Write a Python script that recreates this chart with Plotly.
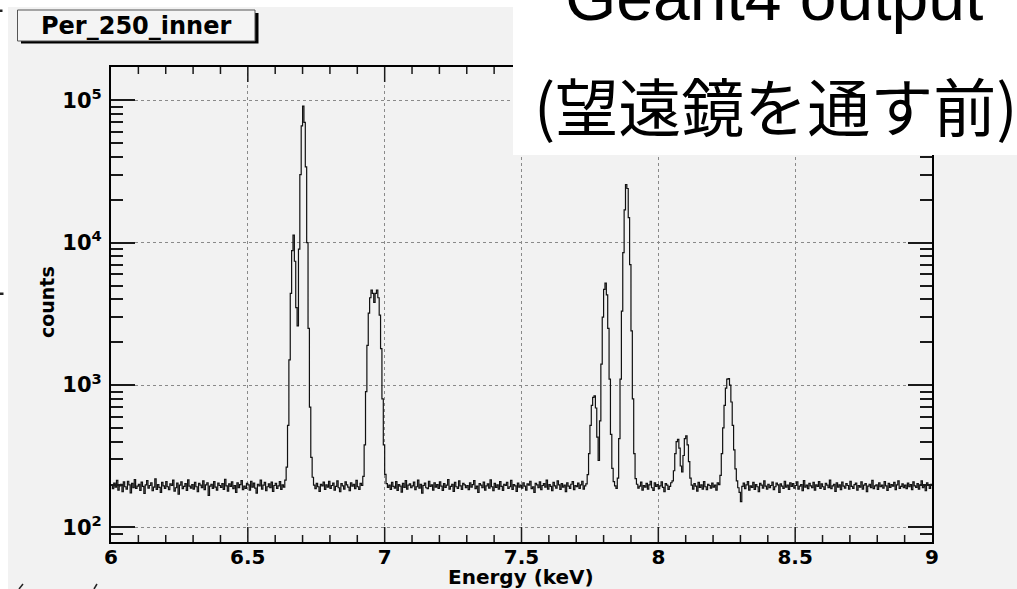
import plotly.graph_objects as go

# ---------------------------------------------------------------------------
# Spectrum: 600 bins of 5 eV from 6 to 9 keV (counts per bin)
# ---------------------------------------------------------------------------
E_MIN, E_MAX, N_BINS = 6.0, 9.0, 600

counts = [
    # 6.0 - 6.1
    198, 187, 205, 192, 214, 183, 196, 201, 178, 209, 193, 186, 211, 199, 175, 204, 190, 217, 188, 195,
    # 6.1 - 6.2
    201, 182, 208, 194, 173, 199, 213, 189, 197, 206, 181, 192, 219, 185, 200, 191, 176, 207, 196, 188,
    # 6.2 - 6.3
    210, 193, 184, 202, 197, 215, 180, 190, 205, 171, 198, 209, 187, 194, 203, 182, 216, 195, 189, 200,
    # 6.3 - 6.4
    186, 207, 193, 178, 204, 198, 190, 212, 184, 199, 206, 168, 195, 201, 188, 210, 192, 183, 205, 197,
    # 6.4 - 6.5
    191, 203, 185, 218, 196, 180, 202, 194, 209, 187, 197, 176, 206, 190, 200, 213, 184, 195, 188, 204,
    # 6.5 - 6.6
    199, 183, 211, 192, 205, 189, 174, 201, 196, 215, 186, 198, 207, 181, 193, 202, 190, 208, 179, 197,
    # 6.6 - 6.7
    204, 188, 196, 210, 185, 199, 192, 215, 265, 520, 1500, 4400, 8800, 11300, 7400, 3500, 2600, 9000, 30000, 66000,
    # 6.7 - 6.8
    91000, 70000, 34000, 10000, 2500, 700, 310, 225, 198, 187, 204, 193, 179, 201, 196, 208, 185, 199, 192, 211,
    # 6.8 - 6.9
    188, 197, 205, 183, 194, 212, 190, 178, 203, 196, 186, 209, 199, 192, 181, 206, 195, 201, 187, 214,
    # 6.9 - 7.0
    193, 185, 204, 197, 228, 380, 900, 1900, 3200, 4100, 4650, 4400, 3800, 4400, 4650, 4100, 3100, 1800, 800, 380,
    # 7.0 - 7.1
    236, 203, 191, 198, 185, 207, 194, 189, 210, 182, 200, 195, 177, 204, 191, 213, 186, 198, 202, 190,
    # 7.1 - 7.2
    196, 208, 184, 193, 215, 189, 201, 174, 197, 205, 190, 187, 211, 194, 199, 183, 206, 192, 200, 188,
    # 7.2 - 7.3
    209, 195, 182, 203, 191, 198, 217, 186, 194, 201, 179, 207, 193, 188, 212, 196, 185, 204, 199, 190,
    # 7.3 - 7.4
    197, 184, 206, 192, 200, 213, 187, 195, 176, 203, 198, 190, 208, 183, 196, 202, 189, 216, 193, 181,
    # 7.4 - 7.5
    204, 191, 199, 186, 210, 194, 182, 201, 197, 207, 188, 193, 214, 185, 200, 196, 179, 205, 192, 198,
    # 7.5 - 7.6
    189, 206, 195, 183, 202, 198, 211, 187, 193, 176, 204, 199, 190, 209, 184, 197, 203, 192, 215, 186,
    # 7.6 - 7.7
    200, 194, 181, 207, 196, 189, 212, 199, 185, 203, 192, 198, 178, 206, 195, 188, 201, 210, 184, 197,
    # 7.7 - 7.8
    193, 205, 188, 199, 211, 186, 196, 202, 235, 330, 520, 720, 820, 840, 690, 430, 295, 560, 1400, 3000,
    # 7.8 - 7.9
    4700, 5200, 4300, 2500, 1100, 450, 260, 210, 196, 188, 222, 420, 1100, 3300, 8500, 17000, 25600, 24000, 15000, 7000,
    # 7.9 - 8.0
    2400, 800, 330, 220, 201, 189, 195, 208, 183, 197, 192, 204, 186, 199, 211, 190, 182, 206, 194, 200,
    # 8.0 - 8.1
    187, 196, 209, 191, 178, 203, 198, 185, 194, 206, 212, 250, 330, 400, 415, 360, 270, 245, 320, 420,
    # 8.1 - 8.2
    440, 380, 290, 222, 198, 186, 203, 195, 180, 207, 191, 199, 186, 210, 193, 184, 201, 197, 189, 205,
    # 8.2 - 8.3
    192, 198, 183, 206, 200, 232, 330, 500, 720, 950, 1100, 1110, 1000, 760, 520, 350, 258, 212, 190, 176,
    # 8.3 - 8.4
    152, 194, 205, 187, 199, 210, 183, 196, 191, 207, 185, 200, 193, 178, 204, 198, 189, 212, 195, 186,
    # 8.4 - 8.5
    201, 190, 197, 208, 184, 193, 205, 199, 176, 202, 195, 188, 211, 192, 198, 185, 206, 194, 203, 189,
    # 8.5 - 8.6
    197, 209, 186, 195, 200, 181, 213, 192, 198, 187, 204, 196, 190, 207, 183, 199, 194, 210, 188, 202,
    # 8.6 - 8.7
    193, 185, 204, 198, 190, 215, 187, 196, 201, 179, 206, 192, 199, 184, 208, 195, 189, 203, 197, 186,
    # 8.7 - 8.8
    211, 194, 188, 200, 205, 183, 197, 192, 209, 186, 198, 203, 178, 195, 201, 190, 214, 187, 196, 199,
    # 8.8 - 8.9
    185, 206, 193, 198, 189, 210, 196, 182, 204, 191, 200, 195, 207, 184, 199, 212, 188, 194, 202, 190,
    # 8.9 - 9.0
    198, 187, 205, 193, 200, 184, 209, 196, 191, 203, 186, 199, 212, 190, 195, 181, 206, 197, 188, 201,
]
assert len(counts) == N_BINS

x_tickvals = [6, 6.5, 7, 7.5, 8, 8.5, 9]
x_ticktext = ["6", "6.5", "7", "7.5", "8", "8.5", "9"]
X_MINOR_STEP = 0.1
y_tickvals = [1e2, 1e3, 1e4, 1e5]
y_ticktext = ["10<sup>2</sup>", "10<sup>3</sup>", "10<sup>4</sup>", "10<sup>5</sup>"]
y_minorvals = [m * 10 ** p for p in (1, 2, 3, 4) for m in range(2, 10)]
Y_LOG_RANGE = [1.8976, 5.2335]

hist_title = "Per_250_inner"
x_title = "Energy (keV)"
y_title = "counts"
note_line1 = "Geant4 output"
note_line2 = "(望遠鏡を通す前)"

# ---------------------------------------------------------------------------
# Page geometry (pixels)
# ---------------------------------------------------------------------------
WIDTH, HEIGHT = 1017, 589
L, R, T, B = 111, 932, 67, 542
PW, PH = R - L, B - T
X_MAJOR_LEN, X_MINOR_LEN = 15, 7


def px_x(px):
    return (px - L) / PW


def px_y(py):
    return (B - py) / PH


BG = "#f2f2f2"
TICK = "#1a1a1a"
BOLD = dict(family="DejaVu Sans", weight="bold", color="black")

# step outline of the histogram
bin_w = (E_MAX - E_MIN) / N_BINS
edges = [E_MIN + i * bin_w for i in range(N_BINS + 1)]
steps_y = counts + [counts[-1]]

fig = go.Figure()
fig.add_trace(go.Scatter(
    x=edges, y=steps_y, mode="lines", line_shape="hv",
    line=dict(color="#111111", width=1.2),
    hoverinfo="skip", showlegend=False,
))

fig.update_layout(
    width=WIDTH, height=HEIGHT,
    margin=dict(l=L, r=WIDTH - R, t=T, b=HEIGHT - B),
    paper_bgcolor=BG, plot_bgcolor=BG,
    showlegend=False,
)
fig.update_xaxes(
    ticks="",
    range=[E_MIN, E_MAX], tickmode="array", tickvals=x_tickvals, ticktext=x_ticktext,
    showline=True, linewidth=2, linecolor="black", mirror=True,
    gridcolor="#8a8a8a", griddash="dot",
    tickfont=dict(size=20, **BOLD), ticklabelstandoff=-4,
)
fig.update_yaxes(
    ticks="inside", ticklen=24, tickwidth=1.5, tickcolor=TICK,
    type="log", range=Y_LOG_RANGE, tickmode="array", tickvals=y_tickvals, ticktext=y_ticktext,
    minor=dict(tickmode="array", tickvals=y_minorvals, ticks="inside", ticklen=12,
               tickwidth=1.5, tickcolor=TICK, showgrid=False),
    showline=True, linewidth=2, linecolor="black", mirror="ticks",
    gridcolor="#8a8a8a", griddash="dot",
    tickfont=dict(size=21, **BOLD), ticklabelstandoff=3,
)

# energy-axis tick comb on the bottom and top edges, placed on the x scale
n_steps = round((E_MAX - E_MIN) / X_MINOR_STEP)
comb_vals = [round(E_MIN + X_MINOR_STEP * i, 3) for i in range(1, n_steps)]
tick_shapes = []
for v in comb_vals:
    major = any(abs(v - t) < 1e-9 for t in x_tickvals)
    h = (X_MAJOR_LEN if major else X_MINOR_LEN) / PH
    for y0, y1 in ((0, h), (1 - h, 1)):
        tick_shapes.append(dict(type="line", xref="x", yref="paper", x0=v, x1=v, y0=y0, y1=y1,
                                line=dict(color=TICK, width=1.5), layer="above"))

shapes = tick_shapes + [
    # white margins at the left and top edges
    dict(type="rect", xref="paper", yref="paper", x0=px_x(-2), x1=px_x(8), y0=px_y(600), y1=px_y(-2),
         fillcolor="white", line=dict(width=0), layer="below"),
    dict(type="rect", xref="paper", yref="paper", x0=px_x(-2), x1=px_x(1020), y0=px_y(7), y1=px_y(-2),
         fillcolor="white", line=dict(width=0), layer="below"),
    # histogram title box with drop shadow
    dict(type="rect", xref="paper", yref="paper", x0=px_x(21), x1=px_x(258.5), y0=px_y(43.5), y1=px_y(13),
         fillcolor="black", line=dict(width=0), layer="above"),
    dict(type="rect", xref="paper", yref="paper", x0=px_x(17.5), x1=px_x(255), y0=px_y(41), y1=px_y(10),
         fillcolor="#f4f4f4", line=dict(color="#555", width=1), layer="above"),
    # white note panel in the upper right
    dict(type="rect", xref="paper", yref="paper", x0=px_x(513), x1=px_x(1020), y0=px_y(155), y1=px_y(-2),
         fillcolor="white", line=dict(width=0), layer="above"),
    # small marks along the page edge
    dict(type="rect", xref="paper", yref="paper", x0=px_x(0), x1=px_x(2.5), y0=px_y(12), y1=px_y(9.5),
         fillcolor="#222", line=dict(width=0), layer="above"),
    dict(type="rect", xref="paper", yref="paper", x0=px_x(0), x1=px_x(3.5), y0=px_y(295), y1=px_y(292.5),
         fillcolor="#222", line=dict(width=0), layer="above"),
    dict(type="line", xref="paper", yref="paper", x0=px_x(19), x1=px_x(23), y0=px_y(589), y1=px_y(584),
         line=dict(color="#222", width=1.5), layer="above"),
    dict(type="line", xref="paper", yref="paper", x0=px_x(94), x1=px_x(97), y0=px_y(589), y1=px_y(584),
         line=dict(color="#222", width=1.5), layer="above"),
]
fig.update_layout(shapes=shapes)

annotations = [
    dict(text=hist_title, x=px_x(136), y=px_y(25.5), font=dict(size=24, **BOLD)),
    dict(text=y_title, x=px_x(47), y=px_y(302), textangle=-90, font=dict(size=19, **BOLD)),
    dict(text=x_title, x=px_x(521), y=px_y(577), font=dict(size=20, **BOLD)),
    dict(text=note_line1, x=px_x(774), y=px_y(-3),
         font=dict(family="Liberation Sans", size=66, color="black")),
    dict(text=note_line2, x=px_x(776), y=px_y(104),
         font=dict(family="Noto Sans CJK JP", size=63, color="black")),
]
for a in annotations:
    a.update(xref="paper", yref="paper", showarrow=False, xanchor="center", yanchor="middle")
fig.update_layout(annotations=annotations)

fig.write_html("out.html")
